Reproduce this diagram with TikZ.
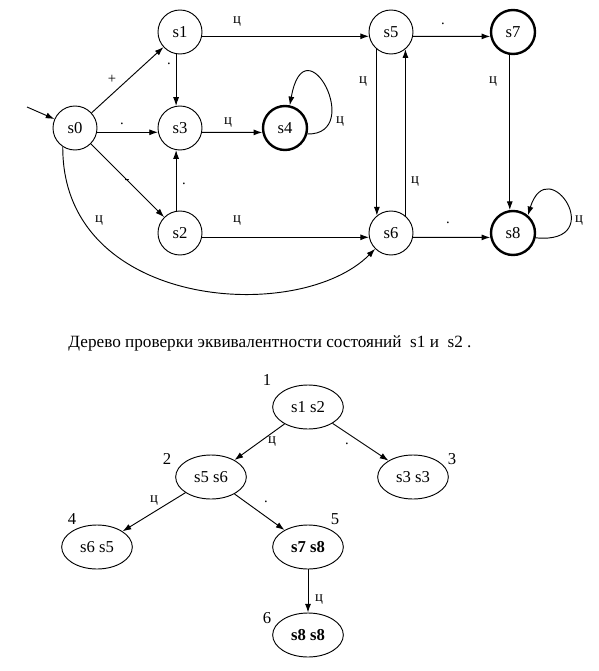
\documentclass[tikz,border=0pt]{standalone}
\usepackage{fontspec}
\setmainfont{Liberation Serif}
\usetikzlibrary{arrows.meta,shapes.geometric}
\begin{document}
\begin{tikzpicture}[x=0.75pt,y=-0.75pt,
  >={Latex[length=6.5pt,width=4.5pt]},
  every path/.style={line width=0.7pt},
  state/.style={circle,draw,line width=0.7pt,minimum size=33pt,inner sep=0pt,font=\fontsize{12.5}{14}\selectfont},
  final/.style={state,line width=1.8pt},
  pair/.style={ellipse,draw,line width=0.7pt,minimum width=53pt,minimum height=33pt,inner sep=0pt,font=\fontsize{12.5}{14}\selectfont},
  lbl/.style={inner sep=0pt,font=\fontsize{11}{13}\selectfont},
  num/.style={inner sep=0pt,font=\fontsize{12.5}{14}\selectfont}]
\useasboundingbox (0,0) rectangle (599,671);

% automaton states
\node[state] (s0) at (75,128) {s0};
\node[state] (s1) at (180,32) {s1};
\node[state] (s3) at (180,128) {s3};
\node[state] (s2) at (180,233) {s2};
\node[final] (s4) at (285,128) {s4};
\node[state] (s5) at (391,32) {s5};
\node[final] (s7) at (513,32) {s7};
\node[state] (s6) at (391,233) {s6};
\node[final] (s8) at (513,233) {s8};
\coordinate (start) at (27,107);

% transitions
\draw[->] (start) -- (s0);
\draw[->] (s0) -- (s1);
\draw[->] (s0.-11) -- (s3.-169);
\draw[->] (s0) -- (s2);
\draw[->] (s1.-100) -- (s3.100);
\draw[->] (s2.100) -- (s3.-100);
\draw[->] (s1.-11) -- (s5.-169);
\draw[->] (s3.-11) -- (s4.-169);
\draw[->] (s2.-11) -- (s6.-169);
\draw[->] (s5.-11) -- (s7.-169);
\draw[->] (s6.-11) -- (s8.-169);
\draw[->] (s5.-129.5) -- (s6.129.5);
\draw[->] (s6.50.5) -- (s5.-50.5);
\draw[->] (s7.-98) -- (s8.98);
\draw[->] (s0.-123) .. controls (62,310) and (300,325) .. (s6.-135);
\draw[->] (s4.-15) .. controls (365,135) and (305,20) .. (s4.78);
\draw[->] (s8.-12) .. controls (610,245) and (548,150) .. (s8.50);

% transition labels
\node[lbl] (l01) at (112,79) {+};
\node[lbl] (l03) at (122,124) {.};
\node[lbl] (l02) at (127,181) {-};
\node[lbl] (l13) at (169,64) {.};
\node[lbl] (l23) at (184,184) {.};
\node[lbl] (l15) at (237,22) {ц};
\node[lbl] (l34) at (228,123) {ц};
\node[lbl] (l26) at (237,221) {ц};
\node[lbl] (l06) at (99,221) {ц};
\node[lbl] (l44) at (340,122) {ц};
\node[lbl] (l56) at (363,82) {ц};
\node[lbl] (l65) at (415,182) {ц};
\node[lbl] (l57) at (443,24) {.};
\node[lbl] (l78) at (493,82) {ц};
\node[lbl] (l68) at (448,223) {.};
\node[lbl] (l88) at (579,221) {ц};

% caption
\node[anchor=base west,inner sep=0pt,font=\fontsize{12.9}{15}\selectfont] (cap) at (68,347)
  {Дерево проверки эквивалентности состояний\ \ s1 и\ \ s2 .};

% equivalence tree
\node[pair] (t1) at (308,407) {s1 s2};
\node[pair] (t2) at (211,477) {s5 s6};
\node[pair] (t3) at (413,477) {s3 s3};
\node[pair] (t4) at (97,547) {s6 s5};
\node[pair] (t5) at (308,547) {\bfseries s7 s8};
\node[pair] (t6) at (308,635) {\bfseries s8 s8};

\draw[->] (t1) -- (t2);
\draw[->] (t1) -- (t3);
\draw[->] (t2) -- (t4);
\draw[->] (t2) -- (t5);
\draw[->] (t5) -- (t6);

\node[lbl] (e12) at (272,442) {ц};
\node[lbl] (e13) at (347,444) {.};
\node[lbl] (e24) at (154,501) {ц};
\node[lbl] (e25) at (266,502) {.};
\node[lbl] (e56) at (319,600) {ц};

\node[num] (n1) at (267,380) {1};
\node[num] (n2) at (167,459) {2};
\node[num] (n3) at (452,459) {3};
\node[num] (n4) at (72,519) {4};
\node[num] (n5) at (335,519) {5};
\node[num] (n6) at (267,618) {6};
\end{tikzpicture}
\end{document}
